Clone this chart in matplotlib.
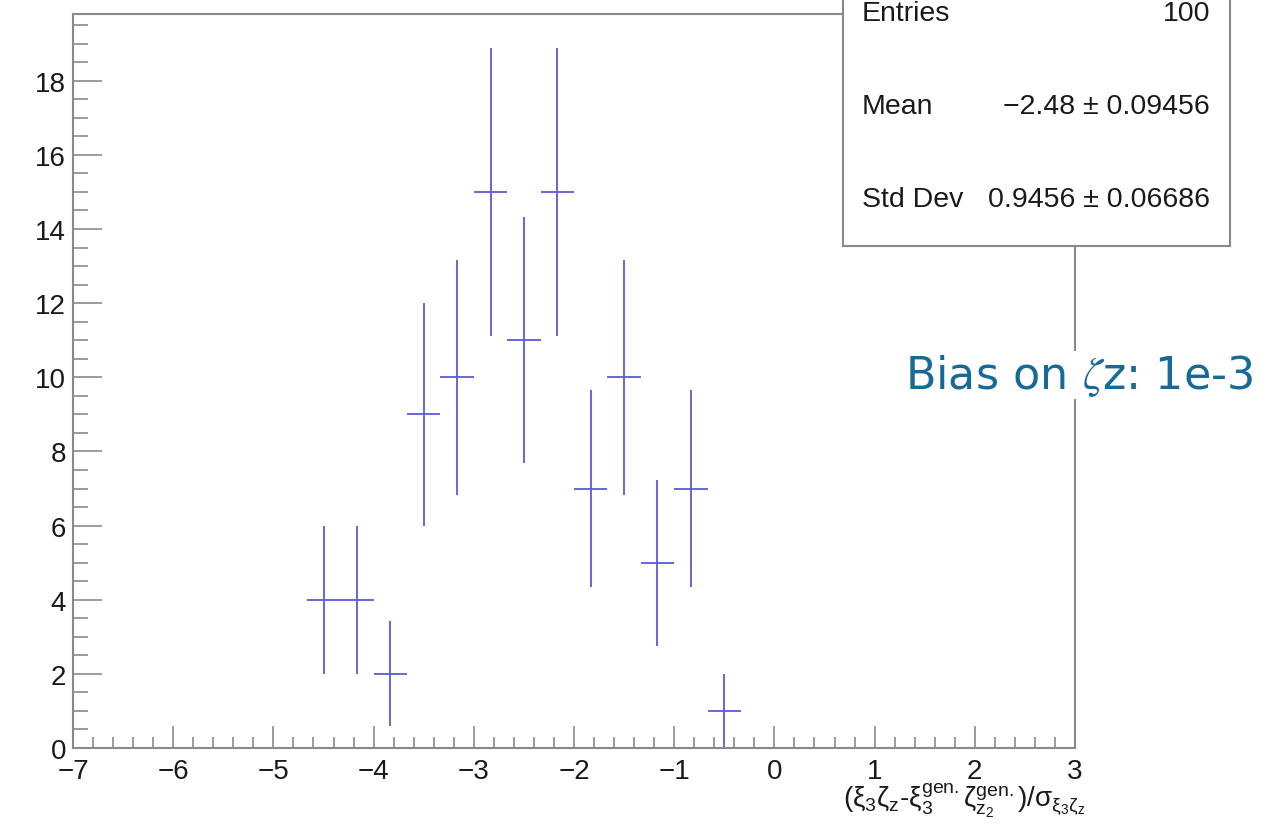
import numpy as np
import matplotlib
matplotlib.use("Agg")
import matplotlib.pyplot as plt
from matplotlib.ticker import MultipleLocator
from matplotlib.patches import Rectangle

# histogram content (bins of width 1/3)
bin_centers = [-4.5, -4.1667, -3.8333, -3.5, -3.1667, -2.8333, -2.5,
               -2.1667, -1.8333, -1.5, -1.1667, -0.8333, -0.5]
counts = [4, 4, 2, 9, 10, 15, 11, 15, 7, 10, 5, 7, 1]
bin_width = 1.0 / 3.0

stat_names = ["Entries", "Mean", "Std Dev"]
stat_values = ["100", "\u22122.48 \u00b1 0.09456", "0.9456 \u00b1 0.06686"]

plt.rcParams["font.family"] = ["Liberation Sans", "DejaVu Sans"]
plt.rcParams["mathtext.fontset"] = "custom"
plt.rcParams["mathtext.rm"] = "Liberation Sans"
plt.rcParams["mathtext.it"] = "Liberation Sans"
plt.rcParams["mathtext.sf"] = "Liberation Sans"

fig = plt.figure(figsize=(12.8, 8.29), dpi=100)
ax = fig.add_axes([73 / 1280, 1 - 749 / 829, (1075 - 73) / 1280, (749 - 15) / 829])

errs = np.sqrt(counts)
ax.errorbar(bin_centers, counts, yerr=errs, xerr=bin_width / 2, fmt="none",
            ecolor="#5a5ad8", elinewidth=1.3, capsize=0)

ax.set_xlim(-7, 3)
ax.set_ylim(0, 19.8)

ax.xaxis.set_major_locator(MultipleLocator(1))
ax.xaxis.set_minor_locator(MultipleLocator(0.2))
ax.yaxis.set_major_locator(MultipleLocator(2))
ax.yaxis.set_minor_locator(MultipleLocator(0.5))

gray = "#8a8a8a"
for s in ax.spines.values():
    s.set_color(gray)
    s.set_linewidth(1.5)

ax.tick_params(axis="both", which="both", direction="in", color=gray, width=1.2,
               labelcolor="#1a1a1a", labelsize=20)
ax.tick_params(axis="x", which="major", length=16, pad=7)
ax.tick_params(axis="x", which="minor", length=8)
ax.tick_params(axis="y", which="major", length=21, pad=5)
ax.tick_params(axis="y", which="minor", length=10.5)
ax.tick_params(top=False, right=False, which="both")

fig.text(1086 / 1280, 1 - 801 / 829,
         r"$\mathrm{(\xi_3\zeta_z}$-$\mathrm{\xi_3^{gen.}\zeta_{z_2}^{gen.})/\sigma_{\xi_3\zeta_z}}$",
         ha="right", va="center", fontsize=20, color="#1a1a1a")

# stats box
box = Rectangle((843 / 1280, 1 - 247 / 829), (1230 - 843) / 1280, 300 / 829,
                transform=fig.transFigure, facecolor="white", edgecolor=gray,
                linewidth=1.5, zorder=5)
fig.add_artist(box)
stat_y = [14, 107, 200]
for name, val, y in zip(stat_names, stat_values, stat_y):
    fig.text(862 / 1280, 1 - y / 829, name, ha="left", va="center",
             fontsize=20.5, color="#1a1a1a", zorder=6)
    fig.text(1210 / 1280, 1 - y / 829, val, ha="right", va="center",
             fontsize=20.5, color="#1a1a1a", zorder=6)

fig.text(905 / 1280, 1 - 376 / 829, r"Bias on $\zeta$z: 1e-3", ha="left", va="center",
         fontsize=32, color="#176a98", family=["DejaVu Sans"],
         math_fontfamily="stix",
         bbox=dict(facecolor="white", edgecolor="none", pad=1), zorder=6)

fig.savefig("out.png", dpi=100)
